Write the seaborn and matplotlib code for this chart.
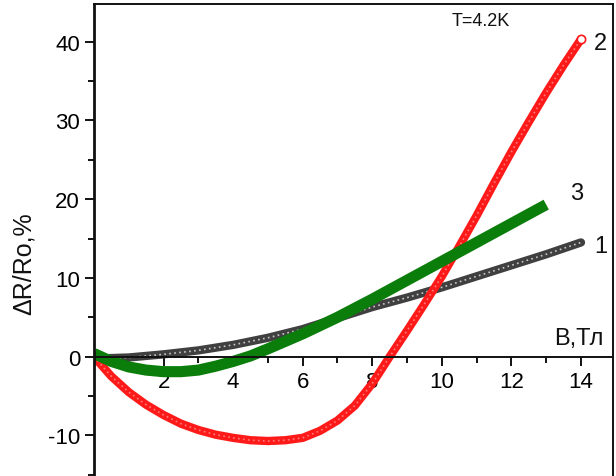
import numpy as np
import seaborn as sns
import matplotlib
matplotlib.use("Agg")
import matplotlib.pyplot as plt
from matplotlib.ticker import MultipleLocator, FixedLocator

# curve 1 (grey)
B1 = [0.3, 1, 2, 3, 4, 5, 6, 7, 8, 9, 10, 11, 12, 13, 14]
R1 = [-0.2, -0.1, 0.3, 0.8, 1.5, 2.4, 3.5, 4.9, 6.3, 7.5, 8.8, 10.2, 11.6, 13.0, 14.5]

# curve 2 (red)
B2 = [0, 0.5, 1, 1.5, 2, 2.5, 3, 3.5, 4, 4.5, 5, 5.5, 6, 6.5, 7, 7.5, 8, 8.5,
      9, 9.5, 10, 10.5, 11, 11.5, 12, 12.5, 13, 13.5, 14]
R2 = [0, -2.5, -4.5, -6.1, -7.4, -8.5, -9.3, -9.9, -10.3, -10.6, -10.7, -10.6,
      -10.3, -9.4, -8.1, -6.2, -3.4, 0.0, 3.3, 6.7, 10.2, 14.0, 17.9, 22.0,
      26.0, 29.8, 33.5, 37.0, 40.3]

# curve 3 (green)
B3 = [0, 0.5, 1, 1.5, 2, 2.5, 3, 3.5, 4, 4.5, 5, 6, 7, 8, 9, 10, 11, 12, 13]
R3 = [0.4, -0.6, -1.3, -1.7, -1.9, -1.9, -1.7, -1.2, -0.6, 0.1, 1.0, 2.9,
      5.0, 7.3, 9.7, 12.1, 14.5, 16.9, 19.3]

x_ticks = [2, 4, 6, 8, 10, 12, 14]
y_ticks = [-10, 0, 10, 20, 30, 40]

sns.set_style("ticks", {'axes.edgecolor': '#111111', 'text.color': 'black',
                        'xtick.color': '#111111', 'ytick.color': '#111111'})
plt.rcParams['font.family'] = ['Liberation Sans', 'DejaVu Sans']
plt.rcParams['axes.unicode_minus'] = False

fig = plt.figure(figsize=(6.16, 4.77), dpi=100)
ax = fig.add_axes([0.1526, 0.0, 0.8425, 0.9895])

# grey beaded line
sns.lineplot(x=B1, y=R1, ax=ax, color='#404040', lw=6, sort=False, estimator=None,
             solid_capstyle='round')
sns.lineplot(x=B1, y=R1, ax=ax, color='#c8c8c8', lw=1.2, ls=(0, (1, 2)), sort=False,
             estimator=None)
# red
sns.lineplot(x=B2, y=R2, ax=ax, color='#ff1a1a', lw=6, sort=False, estimator=None)
sns.lineplot(x=B2, y=R2, ax=ax, color='#ff7a7a', lw=1.2, ls=(0, (1, 2)), sort=False,
             estimator=None)
ax.plot(B2[-1], R2[-1], 'o', ms=6, mfc='white', mec='#ff1a1a', mew=1.2)
# green
sns.lineplot(x=B3, y=R3, ax=ax, color='#0a7d0a', lw=8, sort=False, estimator=None,
             solid_capstyle='butt')

ax.set_xlim(0, 14.92)
ax.set_ylim(-15.14, 44.76)

ax.spines['left'].set_linewidth(2)
for s in ['top', 'right', 'bottom']:
    ax.spines[s].set_linewidth(1.4)
    ax.spines[s].set_visible(True)
ax.spines['bottom'].set_position(('data', 0))

ax.xaxis.set_major_locator(FixedLocator(x_ticks))
ax.xaxis.set_minor_locator(FixedLocator([1, 3, 5, 7, 9, 11, 13]))
ax.yaxis.set_major_locator(FixedLocator(y_ticks))
ax.yaxis.set_minor_locator(MultipleLocator(5))
ax.tick_params(axis='both', which='major', direction='out', length=6.5, width=1.4,
               labelsize=16, pad=3.5, labelcolor='black')
ax.tick_params(axis='both', which='minor', direction='out', length=4.5, width=1.4)
ax.tick_params(axis='y', which='both', right=False)
ax.tick_params(axis='x', which='both', top=False)

ax.set_xlabel('')
ax.set_ylabel('')
fig.text(24 / 616, 1 - 264 / 477, 'ΔR/Ro,%', rotation=90, fontsize=18,
         ha='center', va='center', color='#111111')

ax.text(11.12, 42.7, 'T=4.2K', fontsize=13, ha='center', va='center', color='#111111')
ax.text(14.57, 39.8, '2', fontsize=17, ha='center', va='center', color='#111111')
ax.text(13.88, 20.8, '3', fontsize=17, ha='center', va='center', color='#111111')
ax.text(14.57, 14.05, '1', fontsize=17, ha='center', va='center', color='#111111')
ax.text(13.94, 2.4, 'B,Тл', fontsize=17, ha='center', va='center', color='#111111')

fig.savefig('out.png', dpi=100)
